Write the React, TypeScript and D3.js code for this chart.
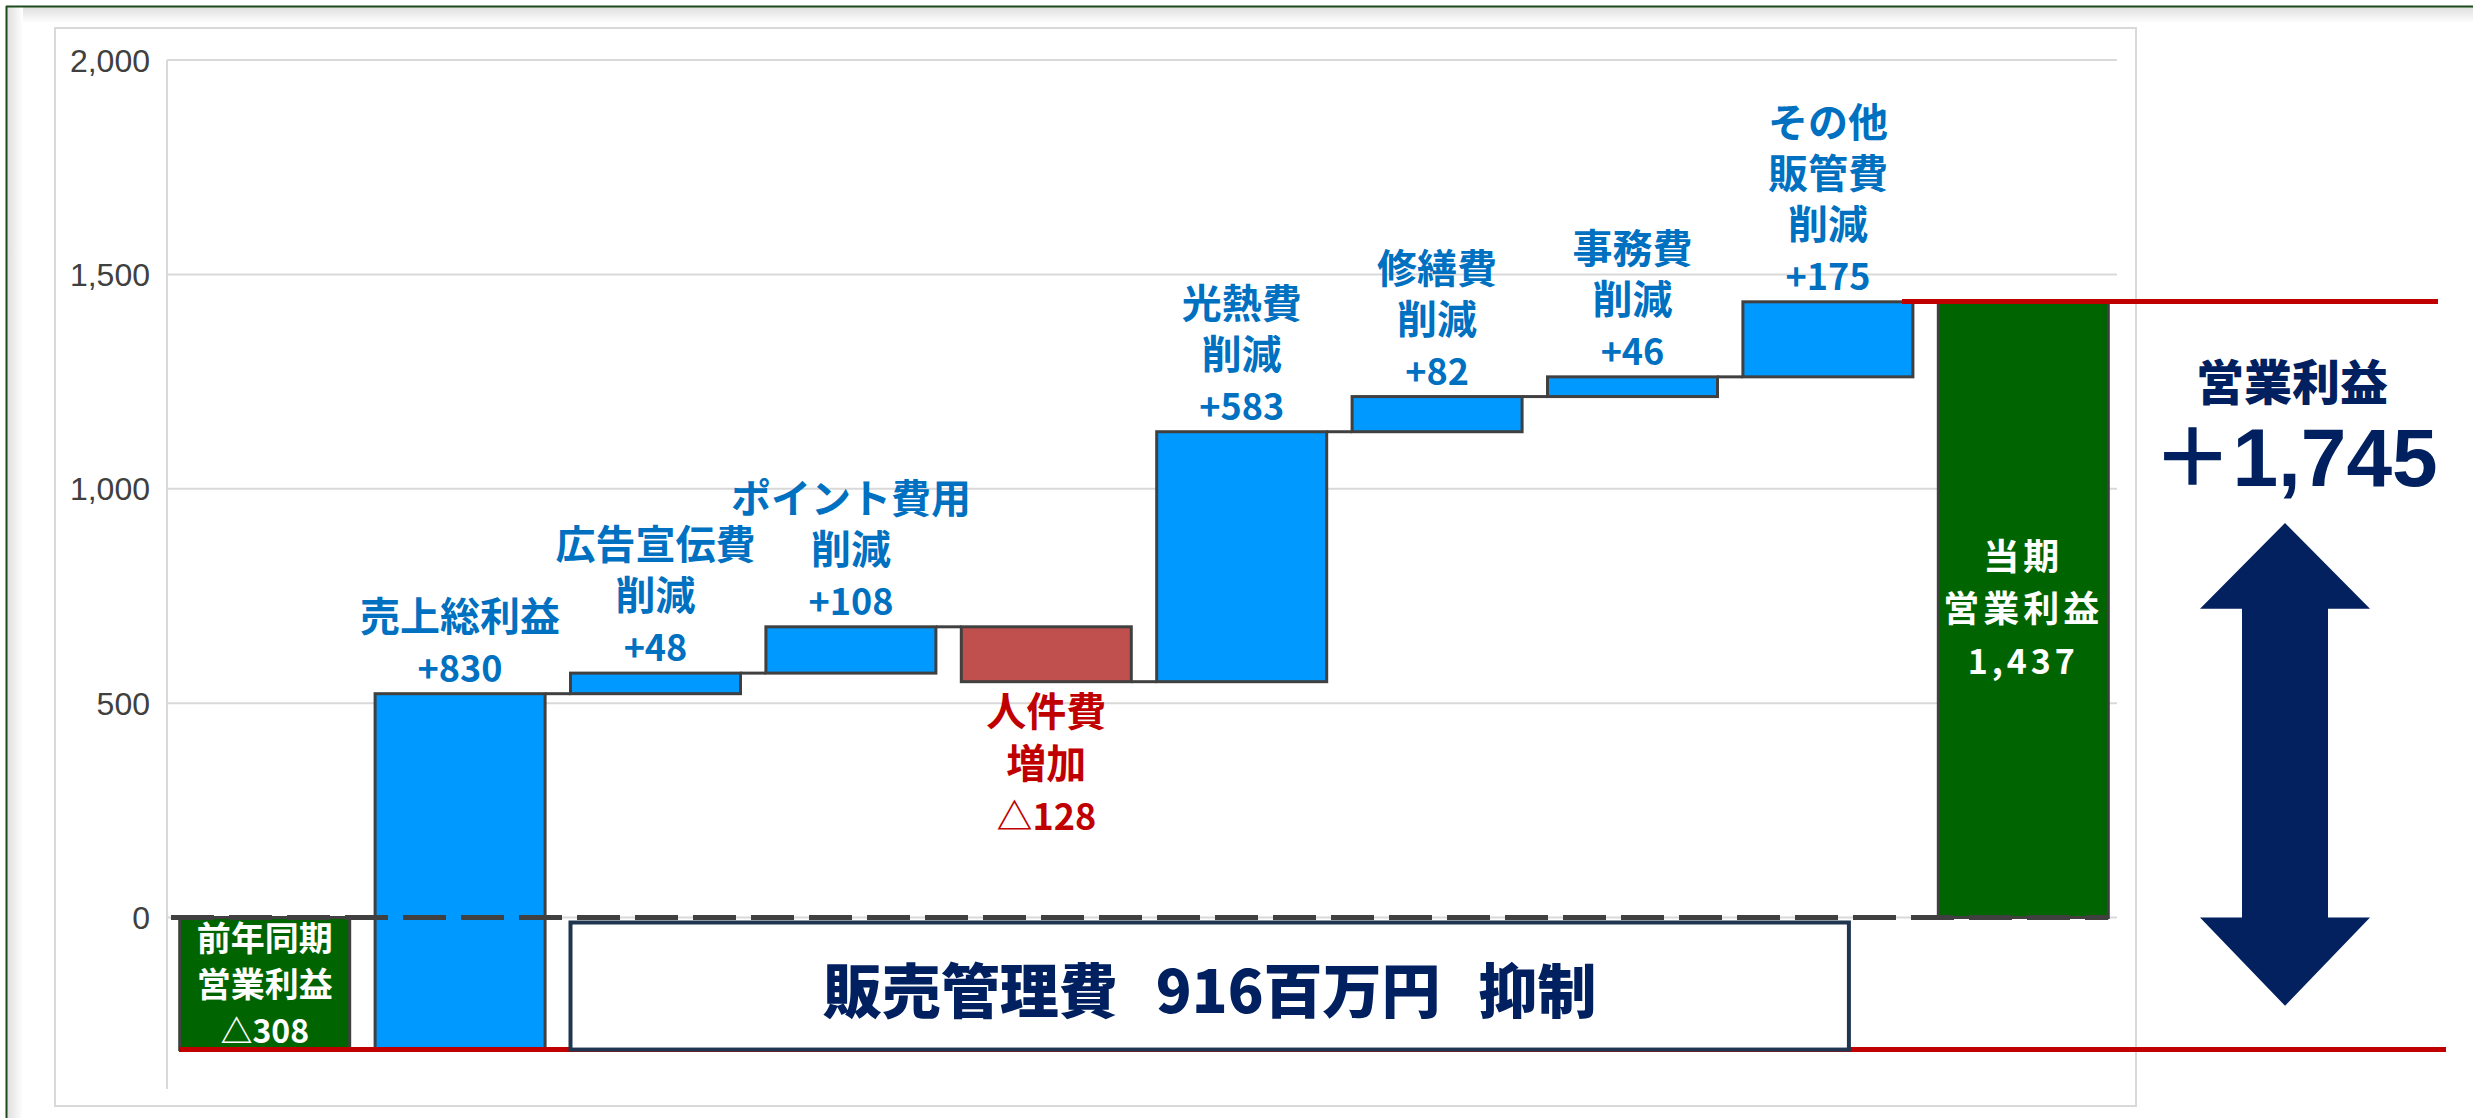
import React from 'react';
import * as d3 from 'd3';

// waterfall data (百万円)
const categories = [
  '前年同期営業利益', '売上総利益', '広告宣伝費削減', 'ポイント費用削減', '人件費増加',
  '光熱費削減', '修繕費削減', '事務費削減', 'その他販管費削減', '当期営業利益',
];
const changes = [-308, 830, 48, 108, -128, 583, 82, 46, 175, 1437];
const barKinds = ['total', 'up', 'up', 'up', 'down', 'up', 'up', 'up', 'up', 'total'];
const labelLines = [
  ['前年同期', '営業利益', '△308'],
  ['売上総利益', '+830'],
  ['広告宣伝費', '削減', '+48'],
  ['ポイント費用', '削減', '+108'],
  ['人件費', '増加', '△128'],
  ['光熱費', '削減', '+583'],
  ['修繕費', '削減', '+82'],
  ['事務費', '削減', '+46'],
  ['その他', '販管費', '削減', '+175'],
  ['当期', '営業利益', '1,437'],
];
const yTicks = [0, 500, 1000, 1500, 2000];
const sgaSaving = 916;

const W = 2473;
const H = 1118;
const CJK = "'Noto Sans CJK JP', 'Noto Sans CJK SC', sans-serif";
const NAVY = '#002060';
const EDGE = '#404040';

const fills: Record<string, string> = { total: '#006400', up: '#0099FF', down: '#C0504D' };

const isNum = (s: string) => /^[+△\d,]+$/.test(s);

export default function App() {
  const x = d3.scaleBand<string>()
    .domain(categories)
    .range([167, 2121])
    .paddingInner(0.13)
    .paddingOuter(0.065);
  const y = d3.scaleLinear().domain([-400, 2000]).range([1089, 60]);
  const bw = x.bandwidth();
  const fmt = d3.format(',');

  // running totals
  let running = 0;
  const bars = categories.map((c, i) => {
    const kind = barKinds[i];
    let from: number, to: number;
    if (kind === 'total') {
      from = 0;
      to = changes[i];
    } else {
      from = running;
      to = running + changes[i];
    }
    running = to;
    return { c, i, kind, from, to, lo: Math.min(from, to), hi: Math.max(from, to) };
  });

  const first = bars[0];
  const last = bars[bars.length - 1];
  const gain = last.to - first.to;

  // one <text> per bar, one tspan per line
  const renderLabel = (b: typeof bars[number]) => {
    const lines = labelLines[b.i];
    const cx = (x(b.c) ?? 0) + bw / 2;
    let ys: number[];
    let color: string;
    let big: number, small: number, spacing = 0, weight: any = 'bold';
    if (b.kind === 'up') {
      const top = y(b.hi);
      ys = lines.map((_, k) => top - 12 - (lines.length - 1 - k) * 51);
      color = '#0070C0';
      big = 40; small = 36;
    } else if (b.kind === 'down') {
      const bottom = y(b.lo);
      ys = lines.map((_, k) => bottom + 44 + k * 52);
      color = '#C00000';
      big = 40; small = 36;
    } else {
      const mid = (y(b.lo) + y(b.hi)) / 2;
      const first = b.i === 0;
      const lh = first ? 46 : 52;
      ys = lines.map((_, k) => mid - ((lines.length - 1) / 2) * lh + k * lh + 13);
      color = '#ffffff';
      big = first ? 34 : 36;
      small = big - 2;
      spacing = first ? 0 : 4;
      weight = 600;
    }
    return (
      <text textAnchor="middle" fontFamily={CJK} fontWeight={weight} fill={color}
        letterSpacing={spacing}>
        {lines.map((t, k) => (
          <tspan key={k} x={cx} y={ys[k]} fontSize={isNum(t) ? small : big}>{t}</tspan>
        ))}
      </text>
    );
  };

  const boxX0 = x(categories[2]) ?? 0;
  const boxX1 = (x(categories[8]) ?? 0) + 106;
  const boxY0 = y(0) + 5;
  const boxY1 = y(first.to);

  // double arrow on the right
  const ax = 2285;
  const headHalf = 85;
  const shaftHalf = 43;
  const aTop = y(920);
  const aHead1 = y(720);
  const aHead2 = y(0);
  const aBot = y(-206);
  const arrowPts = [
    [ax, aTop], [ax + headHalf, aHead1], [ax + shaftHalf, aHead1], [ax + shaftHalf, aHead2],
    [ax + headHalf, aHead2], [ax, aBot], [ax - headHalf, aHead2], [ax - shaftHalf, aHead2],
    [ax - shaftHalf, aHead1], [ax - headHalf, aHead1],
  ].map(p => p.join(',')).join(' ');

  return (
    <svg width={W} height={H} style={{ position: 'absolute', left: 0, top: 0, background: '#fff' }}>
      <defs>
        <linearGradient id="shTop" x1="0" y1="0" x2="0" y2="1">
          <stop offset="0" stopColor="#dedede" />
          <stop offset="1" stopColor="#ffffff" />
        </linearGradient>
        <linearGradient id="shLeft" x1="0" y1="0" x2="1" y2="0">
          <stop offset="0" stopColor="#dedede" />
          <stop offset="1" stopColor="#ffffff" />
        </linearGradient>
      </defs>
      <rect x={0} y={0} width={W} height={H} fill="#fff" />
      <rect x={7} y={7} width={W} height={16} fill="url(#shTop)" />
      <rect x={7} y={7} width={16} height={H} fill="url(#shLeft)" />
      <line x1={6} x2={W} y1={6.5} y2={6.5} stroke="#1c4a1c" strokeWidth={2} />
      <line x1={6.5} x2={6.5} y1={6} y2={H} stroke="#1c4a1c" strokeWidth={2} />

      {/* chart frame */}
      <rect x={55} y={28} width={2081} height={1078} fill="#fff" stroke="#d9d9d9" strokeWidth={2} />

      {/* grid */}
      {yTicks.map(t => (
        <g key={t}>
          <line x1={167} x2={2117} y1={y(t)} y2={y(t)} stroke="#d9d9d9" strokeWidth={2} />
          <text x={150} y={y(t) + 11.5} textAnchor="end" fontFamily="'Liberation Sans', Arial, sans-serif"
            fontSize={32} fill={EDGE}>{fmt(t)}</text>
        </g>
      ))}
      <line x1={167} x2={167} y1={y(2000)} y2={y(-400)} stroke="#d9d9d9" strokeWidth={2} />

      {/* bars */}
      {bars.map(b => (
        <rect key={b.c} x={x(b.c)} y={y(b.hi)} width={bw} height={y(b.lo) - y(b.hi)}
          fill={fills[b.kind]} stroke={EDGE} strokeWidth={3} />
      ))}

      {/* connectors */}
      {bars.slice(1, 8).map(b => (
        <line key={b.c} x1={(x(b.c) ?? 0) + bw} x2={x(categories[b.i + 1])}
          y1={y(b.to)} y2={y(b.to)} stroke={EDGE} strokeWidth={3} />
      ))}

      {/* red reference lines */}
      <line x1={179} x2={2446} y1={y(first.to)} y2={y(first.to)} stroke="#C00000" strokeWidth={5} />
      <line x1={1902} x2={2438} y1={y(last.to)} y2={y(last.to)} stroke="#C00000" strokeWidth={5} />

      {/* SG&A box */}
      <rect x={boxX0} y={boxY0} width={boxX1 - boxX0} height={boxY1 - boxY0}
        fill="#fff" stroke="#203650" strokeWidth={4} />
      <text x={(boxX0 + boxX1) / 2} y={boxY0 + 90} textAnchor="middle" fontFamily={CJK}
        fontWeight={900} fontSize={59} fill={NAVY}>
        販売管理費<tspan dx={38}>{sgaSaving}百万円</tspan><tspan dx={38}>抑制</tspan>
      </text>

      {/* zero line */}
      <line x1={171} x2={(x(last.c) ?? 0) + bw} y1={y(0)} y2={y(0)} stroke={EDGE}
        strokeWidth={5} strokeDasharray="43 15" />

      {bars.map(b => <g key={b.c}>{renderLabel(b)}</g>)}

      {/* right-side annotation */}
      <text x={2292} y={400} textAnchor="middle" fontFamily={CJK} fontWeight={900}
        fontSize={48} fill={NAVY}>営業利益</text>
      <text x={2295} y={486} textAnchor="middle" fill={NAVY}>
        <tspan fontFamily={CJK} fontWeight="bold" fontSize={80}>＋</tspan>
        <tspan fontFamily="'Liberation Sans', Arial, sans-serif" fontWeight="bold" fontSize={82}>{fmt(gain)}</tspan>
      </text>
      <polygon points={arrowPts} fill="#03215F" />
    </svg>
  );
}
